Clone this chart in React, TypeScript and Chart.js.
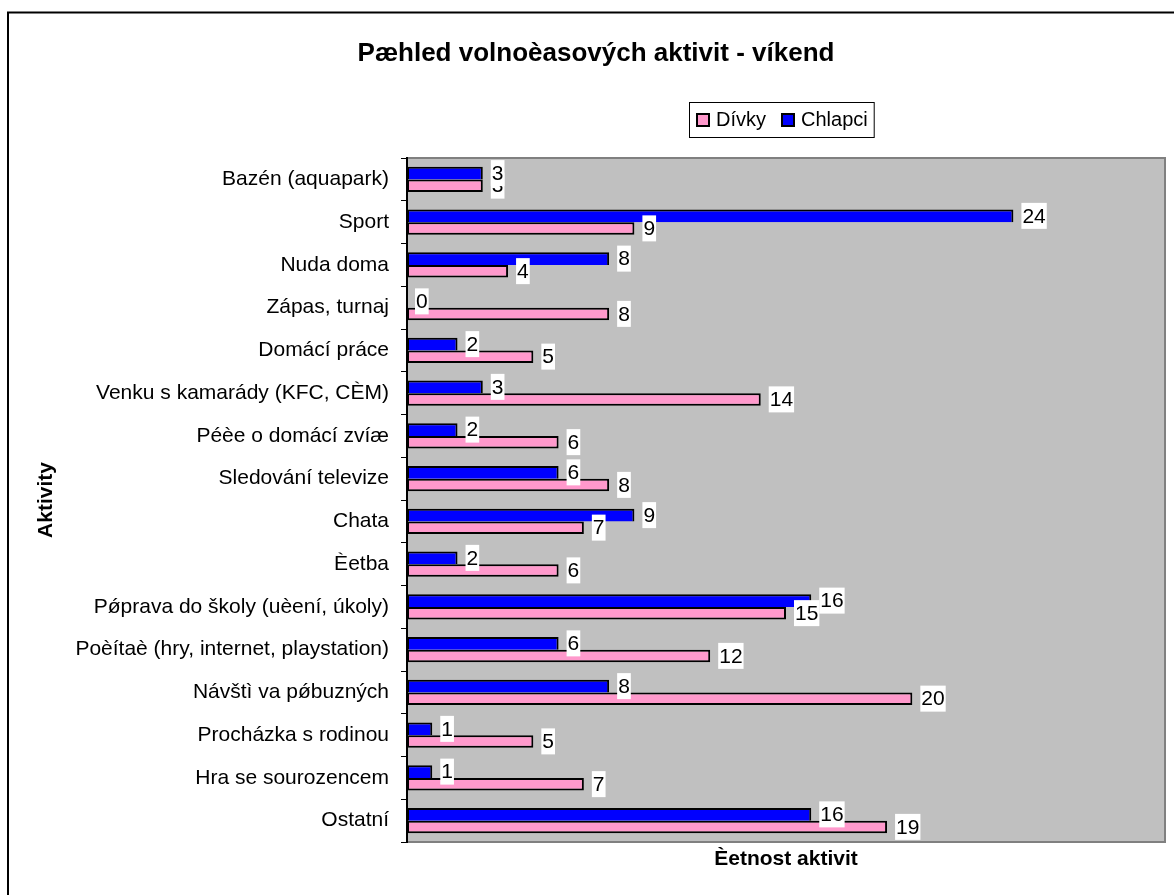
import React, { useEffect, useRef } from "react";
import { Chart, registerables } from "chart.js";

Chart.register(...registerables);

const categories = [
  "Bazén (aquapark)",
  "Sport",
  "Nuda doma",
  "Zápas, turnaj",
  "Domácí práce",
  "Venku s kamarády (KFC, CÈM)",
  "Péèe o domácí zvíæ",
  "Sledování televize",
  "Chata",
  "Èetba",
  "Pǿprava do školy (uèení, úkoly)",
  "Poèítaè (hry, internet, playstation)",
  "Návštì va pǿbuzných",
  "Procházka s rodinou",
  "Hra se sourozencem",
  "Ostatní",
];

const chlapci = [3, 24, 8, 0, 2, 3, 2, 6, 9, 2, 16, 6, 8, 1, 1, 16];
const divky = [3, 9, 4, 8, 5, 14, 6, 8, 7, 6, 15, 12, 20, 5, 7, 19];

const seriesNames = ["Dívky", "Chlapci"];
const titleText = "Pæhled volnoèasových aktivit - víkend";
const yTitle = "Aktivity";
const xTitle = "Èetnost aktivit";
const xMax = 30;

const FONT = "'Liberation Sans', Arial, sans-serif";
const PINK = "#FF99CC";
const BLUE = "#0000FF";

export default function App() {
  const ref = useRef<HTMLCanvasElement | null>(null);

  useEffect(() => {
    const canvas = ref.current;
    if (!canvas) return;

    const decor = {
      id: "decor",
      beforeDraw(chart: any) {
        const { ctx, chartArea: a } = chart;
        ctx.save();
        ctx.fillStyle = "#ffffff";
        ctx.fillRect(0, 0, chart.width, chart.height);
        ctx.fillStyle = "#C0C0C0";
        ctx.fillRect(a.left, a.top, a.right - a.left, a.bottom - a.top);
        ctx.strokeStyle = "#808080";
        ctx.lineWidth = 2;
        ctx.beginPath();
        ctx.moveTo(a.left, a.top);
        ctx.lineTo(a.right, a.top);
        ctx.lineTo(a.right, a.bottom);
        ctx.stroke();
        ctx.restore();
      },
      afterDraw(chart: any) {
        const { ctx } = chart;
        ctx.save();
        // outer frame
        ctx.strokeStyle = "#000";
        ctx.lineWidth = 2;
        ctx.beginPath();
        ctx.moveTo(8, chart.height + 5);
        ctx.lineTo(8, 12.5);
        ctx.lineTo(chart.width + 5, 12.5);
        ctx.stroke();

        // title
        ctx.fillStyle = "#000";
        ctx.font = `bold 26px ${FONT}`;
        ctx.textAlign = "center";
        ctx.textBaseline = "middle";
        ctx.fillText(titleText, 596, 54);

        // legend
        ctx.font = `20px ${FONT}`;
        ctx.textAlign = "left";
        const lx = 689, ly = 102, lh = 35;
        const w1 = ctx.measureText(seriesNames[0]).width;
        const w2 = ctx.measureText(seriesNames[1]).width;
        const blueX = lx + 7 + 14 + 7 + w1 + 14;
        const lw = blueX + 14 + 6 + w2 + 6 - lx;
        ctx.fillStyle = "#fff";
        ctx.fillRect(lx, ly, lw, lh);
        ctx.strokeStyle = "#000";
        ctx.lineWidth = 1;
        ctx.strokeRect(lx + 0.5, ly + 0.5, lw, lh);
        const drawSwatch = (x: number, color: string) => {
          ctx.fillStyle = color;
          ctx.fillRect(x, ly + 11, 14, 14);
          ctx.lineWidth = 2;
          ctx.strokeStyle = "#000";
          ctx.strokeRect(x + 1, ly + 12, 12, 12);
        };
        drawSwatch(lx + 7, PINK);
        ctx.fillStyle = "#000";
        ctx.fillText(seriesNames[0], lx + 7 + 14 + 6, ly + lh / 2 + 1);
        drawSwatch(blueX, BLUE);
        ctx.fillStyle = "#000";
        ctx.fillText(seriesNames[1], blueX + 14 + 6, ly + lh / 2 + 1);

        // data labels: pink first, then blue on top
        ctx.font = `21px ${FONT}`;
        ctx.textBaseline = "middle";
        [1, 0].forEach((di) => {
          const meta = chart.getDatasetMeta(di);
          const data = chart.data.datasets[di].data as number[];
          meta.data.forEach((el: any, i: number) => {
            const txt = String(data[i]);
            const tw = ctx.measureText(txt).width;
            const bx = el.x + 8;
            ctx.fillStyle = "#fff";
            ctx.fillRect(bx, el.y - 13, tw + 2, 26);
            ctx.fillStyle = "#000";
            ctx.fillText(txt, bx + 1, el.y + 1);
          });
        });
        ctx.restore();
      },
    };

    const chart = new Chart(canvas, {
      type: "bar",
      data: {
        labels: categories,
        datasets: [
          {
            label: seriesNames[1],
            data: chlapci,
            backgroundColor: BLUE,
            borderColor: "#000",
            borderWidth: 2,
            borderSkipped: "bottom",
            categoryPercentage: 0.585,
            barPercentage: 1,
          },
          {
            label: seriesNames[0],
            data: divky,
            backgroundColor: PINK,
            borderColor: "#000",
            borderWidth: 2,
            borderSkipped: false,
            categoryPercentage: 0.585,
            barPercentage: 1,
          },
        ],
      },
      options: {
        indexAxis: "y",
        responsive: false,
        animation: false,
        layout: { padding: { top: 158, right: 9, left: 0, bottom: 0 } },
        plugins: {
          legend: { display: false },
          title: { display: false },
          tooltip: { enabled: false },
        },
        scales: {
          x: {
            min: 0,
            max: xMax,
            ticks: { display: false },
            grid: { display: false },
            border: { display: true, color: "#808080", width: 2 },
            title: {
              display: true,
              text: xTitle,
              color: "#000",
              font: { family: FONT, size: 21, weight: "bold" },
              padding: { top: 0, bottom: 23 },
            },
            afterFit: (s: any) => {
              s.height = 53;
            },
          },
          y: {
            ticks: {
              color: "#000",
              font: { family: FONT, size: 21 },
              padding: 12,
            },
            grid: {
              offset: true,
              drawOnChartArea: false,
              drawTicks: true,
              tickLength: 6,
              color: "#000",
              lineWidth: 1,
            },
            border: { display: true, color: "#000", width: 2 },
            title: {
              display: true,
              text: yTitle,
              color: "#000",
              font: { family: FONT, size: 21, weight: "bold" },
              padding: { top: 34, bottom: 0 },
            },
            afterFit: (s: any) => {
              s.width = 407;
            },
          },
        },
      },
      plugins: [decor],
    });

    return () => chart.destroy();
  }, []);

  return (
    <div
      style={{
        position: "fixed",
        left: 0,
        top: 0,
        width: 1174,
        height: 895,
        background: "#fff",
      }}
    >
      <canvas ref={ref} width={1174} height={895} style={{ width: 1174, height: 895, display: "block" }} />
    </div>
  );
}
